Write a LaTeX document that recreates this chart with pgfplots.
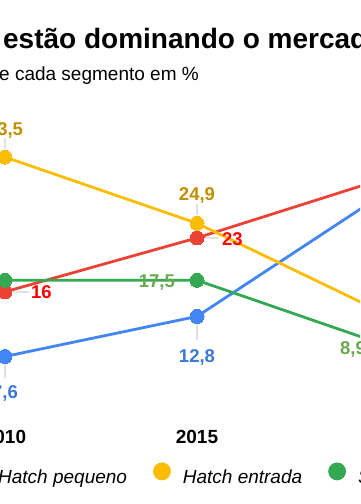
\documentclass[border=0pt]{standalone}
\usepackage{pgfplots}
\pgfplotsset{compat=1.18}
\usepackage{fontspec}
\setmainfont{Liberation Sans}
\definecolor{cblue}{HTML}{4285F4}
\definecolor{cred}{HTML}{EA4335}
\definecolor{cyellow}{HTML}{FBBC04}
\definecolor{cgreen}{HTML}{34A853}
\definecolor{lblue}{HTML}{3C78D8}
\definecolor{lred}{HTML}{FF0000}
\definecolor{lyellow}{HTML}{BF9000}
\definecolor{lgreen}{HTML}{6AA84F}
\definecolor{leader}{HTML}{E0E0E0}
\newcommand\titlefont{\fontsize{28}{33}\selectfont\bfseries}
\newcommand\subfont{\fontsize{19}{23}\selectfont}
\newcommand\labfont{\fontsize{18.5}{22}\selectfont\bfseries}
\newcommand\ticfont{\fontsize{19}{23}\selectfont\bfseries}
\newcommand\legfont{\fontsize{19}{23}\selectfont\itshape}
\begin{document}
\begin{tikzpicture}[x=1pt,y=1pt]
\useasboundingbox (0,0) rectangle (360,504);
\clip (0,0) rectangle (360,504);
\node[anchor=base west, font=\titlefont, inner sep=0pt] at (3,455) {\llap{SUVs }estão dominando o mercado};
\node[anchor=base west, font=\subfont, inner sep=0pt] at (-1,423) {\llap{Participação d}e cada segmento em \%};
\begin{axis}[
  scale only axis, width=768pt, height=385pt,
  xmin=-1, xmax=3, ymin=0, ymax=50,
  at={(-187pt,89pt)}, anchor=south west,
  axis line style={draw=none}, tick style={draw=none},
  ytick=\empty, xtick={0,1,2}, xticklabels={2010,2015,2020},
  xticklabel style={font=\ticfont, anchor=base, yshift=-28pt},
  clip=false,
  legend columns=-1,
  legend cell align=left,
  legend image code/.code={\fill[#1] (7.5pt,5.5pt) circle (7.5pt);},
  legend style={at={(0.0788,-0.152)}, anchor=west, draw=none, fill=none,
    inner sep=0pt, outer sep=0pt, font=\legfont,
    nodes={inner sep=0pt, outer sep=0pt},
    /tikz/every odd column/.append style={column sep=12pt},
    /tikz/every even column/.append style={column sep=26pt}},
]
\addplot[color=cblue, line width=2.8pt, mark=*, mark size=7pt, mark options={fill=cblue, draw=cblue, line width=0pt}]
  coordinates {(0,7.6) (1,12.8) (2,29.2)};
\addlegendentry{SUV}
\addplot[color=cred, line width=2.8pt, mark=*, mark size=7pt, mark options={fill=cred, draw=cred, line width=0pt}]
  coordinates {(0,16) (1,23) (2,30.9)};
\addlegendentry{Hatch pequeno}
\addplot[color=cyellow, line width=2.8pt, mark=*, mark size=7pt, mark options={fill=cyellow, draw=cyellow, line width=0pt}]
  coordinates {(0,33.5) (1,24.9) (2,12.9)};
\addlegendentry{Hatch entrada}
\addplot[color=cgreen, line width=2.8pt, mark=*, mark size=7pt, mark options={fill=cgreen, draw=cgreen, line width=0pt}]
  coordinates {(0,17.5) (1,17.5) (2,8.9)};
\addlegendentry{Sedã}
% leader lines
\draw[leader, line width=1.5pt] ([yshift=8pt]axis cs:0,33.5) -- ([yshift=19pt]axis cs:0,33.5);
\draw[leader, line width=1.5pt] ([yshift=8pt]axis cs:1,24.9) -- ([yshift=19pt]axis cs:1,24.9);
\draw[leader, line width=1.5pt] ([xshift=8pt]axis cs:1,23) -- ([xshift=22pt]axis cs:1,23);
\draw[leader, line width=1.5pt] ([xshift=8pt]axis cs:0,16) -- ([xshift=24pt]axis cs:0,16);
\draw[leader, line width=1.5pt] ([yshift=-8pt]axis cs:1,12.8) -- ([yshift=-24pt]axis cs:1,12.8);
\draw[leader, line width=1.5pt] ([yshift=-8pt]axis cs:0,7.6) -- ([yshift=-22pt]axis cs:0,7.6);
% data labels
\node[font=\labfont, text=lyellow, anchor=base, inner sep=0pt] at ([yshift=22pt]axis cs:0,33.5) {33,5};
\node[font=\labfont, text=lyellow, anchor=base, inner sep=0pt] at ([yshift=23pt]axis cs:1,24.9) {24,9};
\node[font=\labfont, text=lred, anchor=base west, inner sep=0pt] at ([xshift=25pt,yshift=-8pt]axis cs:1,23) {23};
\node[font=\labfont, text=lred, anchor=base west, inner sep=0pt] at ([xshift=26pt,yshift=-7pt]axis cs:0,16) {16};
\node[font=\labfont, text=lgreen, anchor=base east, inner sep=0pt] at ([xshift=-22pt,yshift=-7.5pt]axis cs:1,17.5) {17,5};
\node[font=\labfont, text=lgreen, anchor=base east, inner sep=0pt] at ([xshift=-23pt,yshift=-8pt]axis cs:2,8.9) {8,9};
\node[font=\labfont, text=lblue, anchor=base, inner sep=0pt] at ([yshift=-46pt]axis cs:1,12.8) {12,8};
\node[font=\labfont, text=lblue, anchor=base, inner sep=0pt] at ([yshift=-42pt]axis cs:0,7.6) {7,6};
\end{axis}
\end{tikzpicture}
\end{document}
